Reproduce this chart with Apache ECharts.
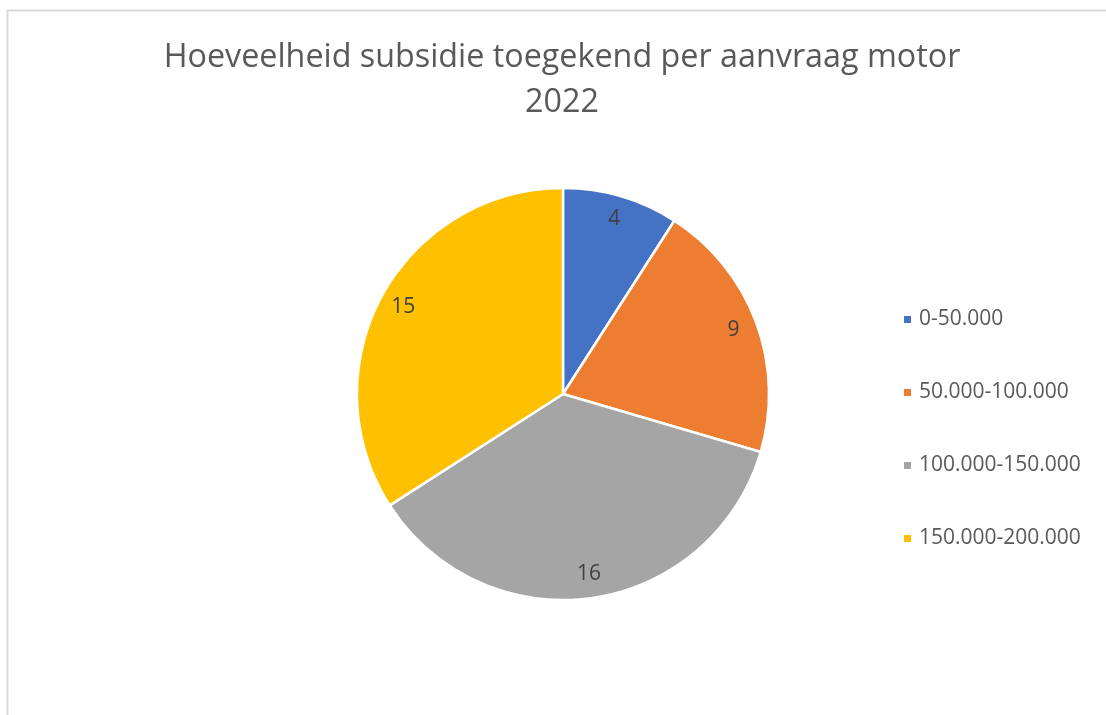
<!DOCTYPE html>
<html>
<head>
<meta charset="utf-8">
<script src="https://cdn.jsdelivr.net/npm/echarts@6/dist/echarts.min.js"></script>
<style>
  html, body { margin: 0; padding: 0; background: #fff; }
  #main { width: 1106px; height: 715px; }
</style>
</head>
<body>
<div id="main"></div>
<script>
// data
var categories = ['0-50.000', '50.000-100.000', '100.000-150.000', '150.000-200.000'];
var values = [4, 9, 16, 15];
var colors = ['#4472C4', '#ED7D31', '#A5A5A5', '#FFC000'];

var pieData = categories.map(function (c, i) {
  return { name: c, value: values[i], itemStyle: { color: colors[i] } };
});

var myChart = echarts.init(document.getElementById('main'));

var option = {
  backgroundColor: '#fff',
  animation: false,
  graphic: [{
    type: 'rect',
    shape: { x: 7.5, y: 10.5, width: 1200, height: 800 },
    style: { fill: 'none', stroke: '#d9d9d9', lineWidth: 2 },
    silent: true
  }],
  title: {
    text: 'Hoeveelheid subsidie toegekend per aanvraag motor\n2022',
    left: 562,
    textAlign: 'center',
    top: 35,
    padding: 0,
    textStyle: {
      fontFamily: 'Open Sans',
      fontWeight: 'normal',
      fontSize: 32.3,
      lineHeight: 45,
      color: '#595959'
    }
  },
  legend: {
    orient: 'vertical',
    left: 902,
    top: 309,
    padding: 0,
    icon: 'rect',
    itemWidth: 9,
    itemHeight: 9,
    itemGap: 52,
    data: categories,
    textStyle: {
      fontFamily: 'Open Sans',
      fontSize: 21,
      color: '#595959',
      padding: [0, 0, 0, 2]
    }
  },
  series: [{
    type: 'pie',
    center: [563, 394],
    radius: [0, 206],
    startAngle: 90,
    clockwise: true,
    label: { show: false },
    labelLine: { show: false },
    itemStyle: { borderColor: '#fff', borderWidth: 2.5 },
    emphasis: { disabled: true },
    data: pieData
  }, {
    // transparent ring only used to place the value labels near the outer edge
    type: 'pie',
    center: [563, 394],
    radius: [152, 206],
    startAngle: 90,
    clockwise: true,
    silent: true,
    legendHoverLink: false,
    itemStyle: { color: 'rgba(0,0,0,0)', borderWidth: 0 },
    label: {
      show: true,
      position: 'inside',
      formatter: '{c}',
      fontFamily: 'Open Sans',
      fontSize: 21,
      color: '#404040'
    },
    labelLine: { show: false },
    emphasis: { disabled: true },
    data: values.map(function (v, i) { return { name: categories[i] + ' ', value: v }; })
  }]
};

myChart.setOption(option);
</script>
</body>
</html>
